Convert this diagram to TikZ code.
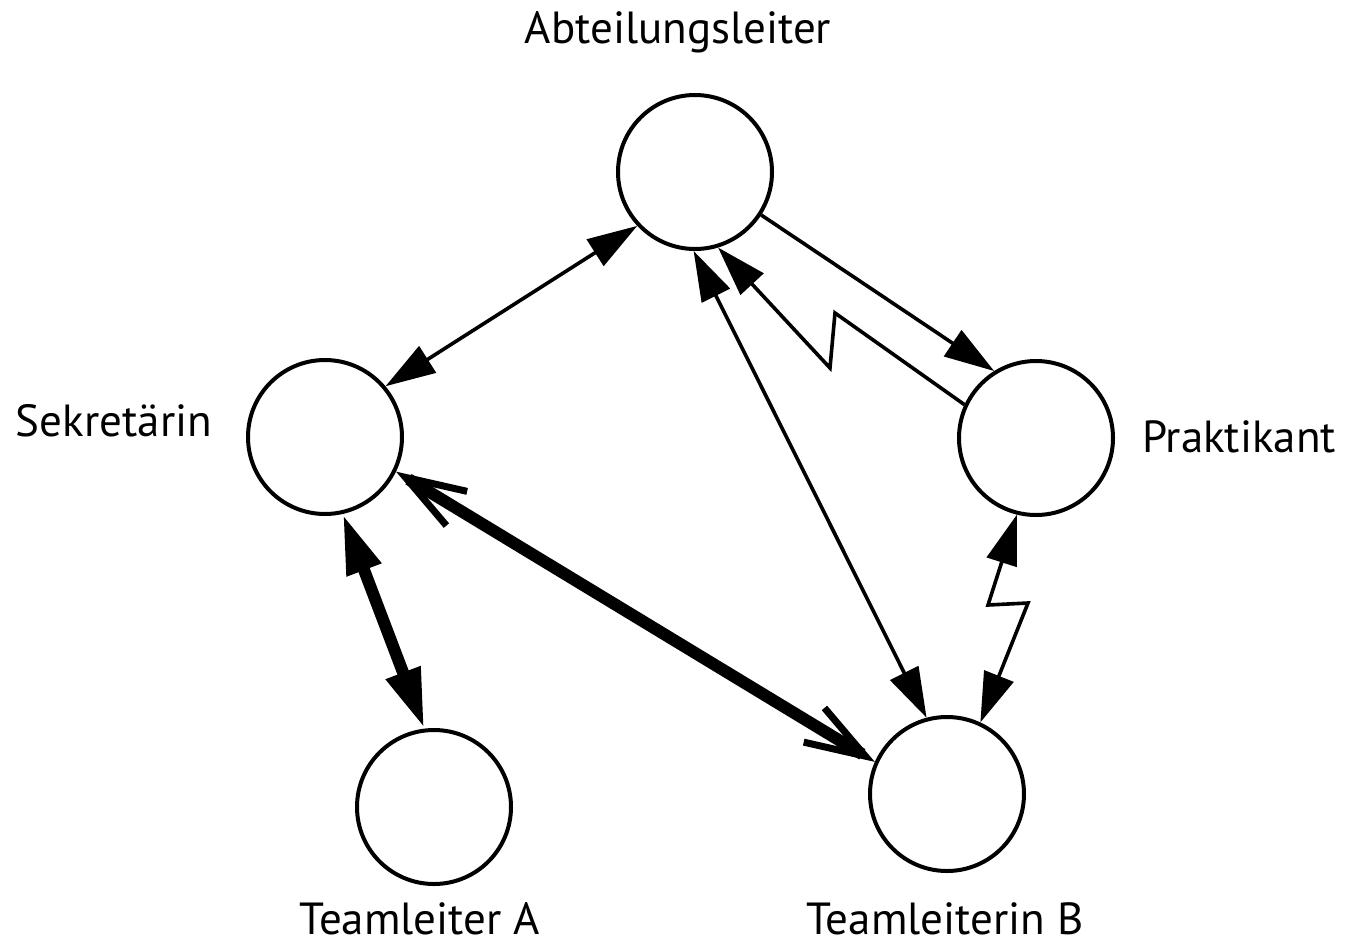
\documentclass[tikz,border=0pt]{standalone}
\usepackage{fontspec}
\setmainfont{PT Sans}
\usetikzlibrary{arrows.meta}
\tikzset{
  hd/.tip={Triangle[length=50pt,width=31pt]},
  bighd/.tip={Triangle[length=60pt,width=34pt]},
  barbhd/.tip={Straight Barb[length=60pt,width=40pt,line width=7pt]}}
\begin{document}
\begin{tikzpicture}[x=1pt,y=-1pt,
  person/.style={circle,draw,line width=4pt,minimum size=154pt,inner sep=0pt},
  lbl/.style={anchor=base,inner sep=0pt,font=\fontsize{45}{50}\selectfont},
  lowlbl/.style={lbl,text depth=0pt},
  thin/.style={line width=3.6pt},
  fat/.style={line width=12pt}]
\useasboundingbox (0,0) rectangle (1347,946);
% persons
\node[person] (al) at (695,172) {};
\node[person] (se) at (325,437) {};
\node[person] (pr) at (1036,438) {};
\node[person] (ta) at (434,807) {};
\node[person] (tb) at (947,794) {};
% labels
\node[lbl] (lal) at (678,43) {Abteilungsleiter};
\node[lbl] (lse) at (114,436) {Sekretärin};
\node[lbl] (lpr) at (1239,452) {Praktikant};
\node[lowlbl] (lta) at (420,934) {Teamleiter A};
\node[lowlbl] (ltb) at (945,934) {Teamleiterin B};
% zigzag bends
\coordinate (z1) at (835,313);
\coordinate (z2) at (830,368);
\coordinate (z3) at (988,605);
\coordinate (z4) at (1028,603);
% relations
\draw[thin,hd-hd] (al.223) -- (se.40);
\draw[thin,-hd] (al.-33) -- (pr.122);
\draw[thin,-hd] (pr.155) -- (z1) -- (z2) -- (al.-73);
\draw[thin,hd-hd] (al.-91) -- (tb.105);
\draw[thin,hd-hd] (pr.-104) -- (z3) -- (z4) -- (tb.65);
\draw[fat,bighd-bighd] (se.-77) -- (ta.97);
\draw[fat,barbhd-barbhd] (se.-26) -- (tb.156);
\end{tikzpicture}
\end{document}
